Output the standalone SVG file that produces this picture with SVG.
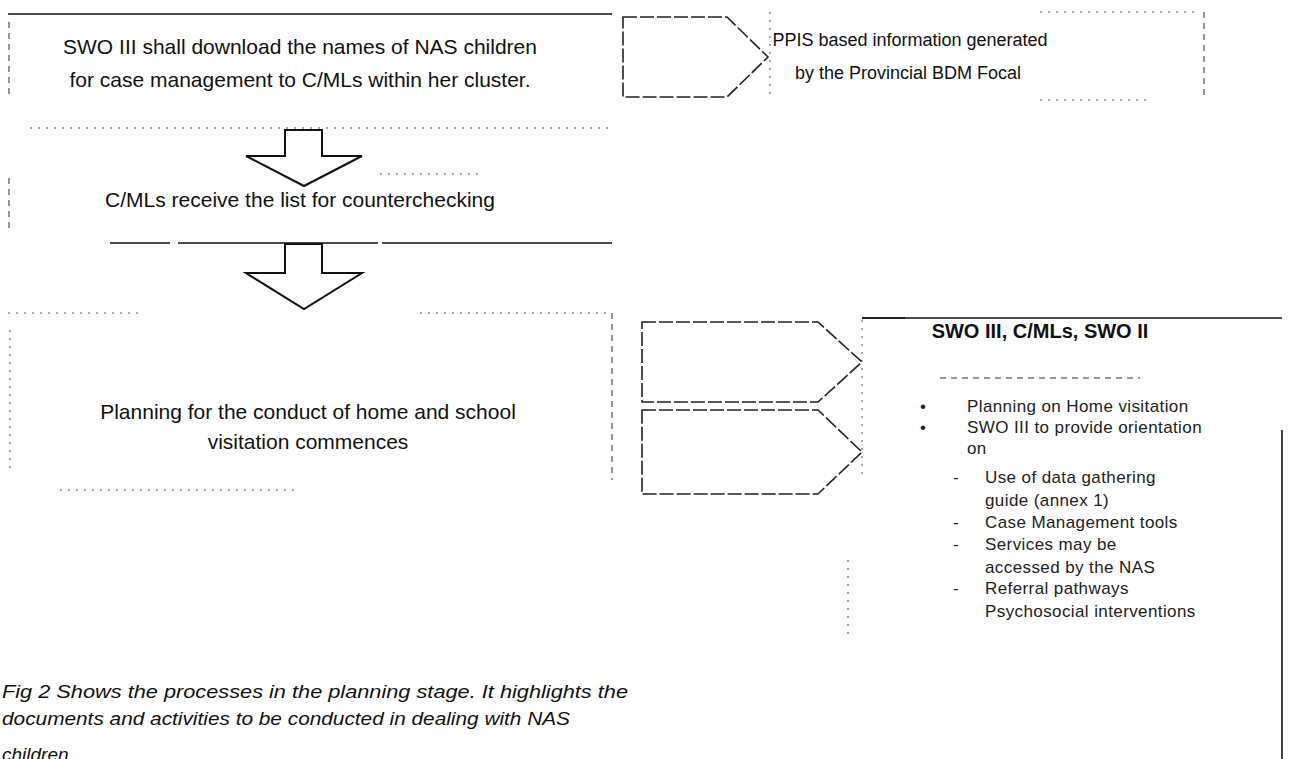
<svg xmlns="http://www.w3.org/2000/svg" width="1292" height="759" viewBox="0 0 1292 759">
<style>
.t{font-family:"Liberation Sans",Arial,sans-serif;fill:#111}
.c{font-size:21px;text-anchor:middle}
.p{font-size:18px;text-anchor:middle}
.b{font-size:17px;fill:#222;letter-spacing:0.4px}
.cap{font-family:"Liberation Sans",Arial,sans-serif;font-size:19px;font-style:italic;fill:#111}
.solid{stroke:#111;stroke-width:1.6;fill:none}
.dash{stroke:#333;stroke-width:1;fill:none;stroke-dasharray:6 5}
.dot{stroke:#555;stroke-width:1;fill:none;stroke-dasharray:2 6}
.blk{fill:#fff;stroke:#111;stroke-width:2;stroke-linejoin:miter}
.pent{fill:#fff;stroke:#222;stroke-width:1.6;stroke-dasharray:14 3}
</style>
<rect width="1292" height="759" fill="#fff"/>

<g id="node-download">
<line class="solid" x1="8" y1="14" x2="612" y2="14"/>
<line class="dash" x1="9" y1="22" x2="9" y2="95"/>
<line class="dot" x1="30" y1="128" x2="610" y2="128"/>
<text class="t c" x="300" y="54">SWO III shall download the names of NAS children</text>
<text class="t c" x="300" y="87">for case management to C/MLs within her cluster.</text>
</g>

<g id="node-receive">
<line class="dash" x1="9" y1="178" x2="9" y2="232"/>
<line class="dot" x1="380" y1="174" x2="480" y2="174"/>
<line class="solid" x1="110" y1="243" x2="612" y2="243" stroke-dasharray="60 8 200 4 230"/>
<text class="t c" x="300" y="207">C/MLs receive the list for counterchecking</text>
</g>

<g id="node-planning">
<line class="dot" x1="8" y1="313" x2="140" y2="313"/>
<line class="dot" x1="420" y1="313" x2="610" y2="313"/>
<line class="dash" x1="612" y1="313" x2="612" y2="480"/>
<line class="dot" x1="10" y1="330" x2="10" y2="470"/>
<line class="dot" x1="60" y1="490" x2="300" y2="490"/>
<text class="t c" x="308" y="419">Planning for the conduct of home and school</text>
<text class="t c" x="308" y="449">visitation commences</text>
</g>

<g id="node-ppis">
<line class="dash" x1="1204" y1="12" x2="1204" y2="100"/>
<line class="dot" x1="1040" y1="12" x2="1200" y2="12"/>
<line class="dot" x1="1040" y1="100" x2="1150" y2="100"/>
<line class="dot" x1="770" y1="12" x2="770" y2="100"/>
<text class="t p" x="910" y="46">PPIS based information generated</text>
<text class="t p" x="908" y="79">by the Provincial BDM Focal</text>
</g>

<g id="node-roles">
<line class="solid" x1="862" y1="318" x2="1282" y2="318" stroke-width="1.4"/>
<line class="solid" x1="862" y1="318" x2="905" y2="318" stroke-width="2.6"/>
<line class="dot" x1="862" y1="320" x2="862" y2="480"/>
<line class="dot" x1="848" y1="560" x2="848" y2="640"/>
<line class="dash" x1="940" y1="378" x2="1140" y2="378"/>
<line class="solid" x1="1282" y1="430" x2="1282" y2="759"/>
<text class="t" x="1040" y="338" text-anchor="middle" font-size="20" font-weight="bold">SWO III, C/MLs, SWO II</text>
<text class="t b" x="920" y="412">•</text>
<text class="t b" x="967" y="412">Planning on Home visitation</text>
<text class="t b" x="920" y="433">•</text>
<text class="t b" x="967" y="433">SWO III to provide orientation</text>
<text class="t b" x="967" y="454">on</text>
<text class="t b" x="953" y="483">-</text>
<text class="t b" x="985" y="483">Use of data gathering</text>
<text class="t b" x="985" y="506">guide (annex 1)</text>
<text class="t b" x="953" y="528">-</text>
<text class="t b" x="985" y="528">Case Management tools</text>
<text class="t b" x="953" y="550">-</text>
<text class="t b" x="985" y="550">Services may be</text>
<text class="t b" x="985" y="573">accessed by the NAS</text>
<text class="t b" x="953" y="594">-</text>
<text class="t b" x="985" y="594">Referral pathways</text>
<text class="t b" x="985" y="617">Psychosocial interventions</text>
</g>

<g id="caption">
<text class="cap" x="2" y="698" textLength="626" lengthAdjust="spacingAndGlyphs">Fig  2 Shows the processes in the planning stage. It highlights the</text>
<text class="cap" x="2" y="725" textLength="568" lengthAdjust="spacingAndGlyphs">documents and activities to be conducted in dealing with NAS</text>
<text class="cap" x="2" y="761">children</text>
</g>

<g id="connectors">
<path class="blk" d="M285,130 L322,130 L322,156 L362,156 L304,186 L246,156 L285,156 Z"/>
<path class="blk" d="M285,244 L322,244 L322,273 L362,273 L304,309 L246,273 L285,273 Z"/>
<path class="pent" d="M623,17 L727,17 L768,57 L727,97 L623,97 Z"/>
<path class="pent" d="M642,322 L818,322 L862,362 L818,402 L642,402 Z"/>
<path class="pent" d="M642,410 L818,410 L862,452 L818,494 L642,494 Z"/>
</g>
</svg>
